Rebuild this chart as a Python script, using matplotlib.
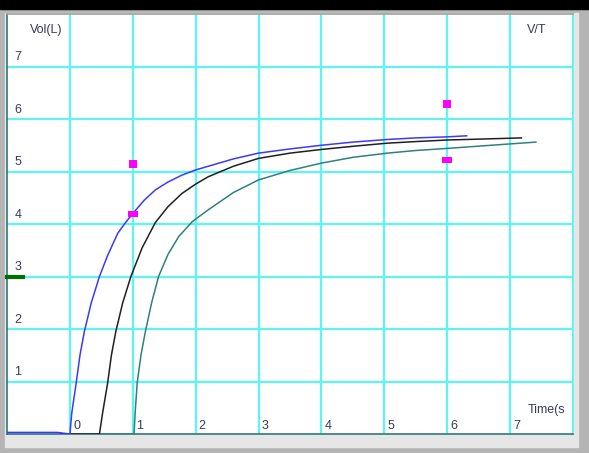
import matplotlib
matplotlib.use("Agg")
import matplotlib.pyplot as plt
from matplotlib.patches import Rectangle

# temps (s) / volume (L) des trois courbes V/T
blue_t = [-1.0, -0.2, 0.0, 0.03, 0.1, 0.16, 0.23, 0.34, 0.47, 0.6, 0.76, 0.88, 1.0,
          1.18, 1.36, 1.56, 1.78, 2.0, 2.2, 2.6, 3.0, 3.5, 4.0, 4.5, 5.05, 5.5, 6.0, 6.31]
blue_v = [0.03, 0.03, 0.0, 0.4, 0.97, 1.5, 1.95, 2.5, 3.0, 3.4, 3.82, 4.02, 4.2,
          4.45, 4.65, 4.8, 4.93, 5.03, 5.1, 5.24, 5.35, 5.43, 5.5, 5.56, 5.61, 5.64, 5.66, 5.68]

black_t = [-0.15, 0.47, 0.52, 0.6, 0.66, 0.73, 0.84, 0.97, 1.15, 1.36, 1.56, 1.78, 2.0,
           2.2, 2.6, 3.0, 3.5, 4.0, 4.5, 5.05, 5.5, 6.0, 6.6, 7.18]
black_v = [0.0, 0.0, 0.4, 0.97, 1.5, 1.95, 2.5, 3.0, 3.55, 4.03, 4.33, 4.58, 4.76,
           4.9, 5.1, 5.25, 5.35, 5.42, 5.48, 5.54, 5.57, 5.6, 5.62, 5.64]

teal_t = [0.47, 1.02, 1.04, 1.07, 1.13, 1.2, 1.3, 1.41, 1.56, 1.73, 1.95, 2.2, 2.6,
          3.0, 3.5, 4.0, 4.5, 5.05, 5.5, 6.0, 6.7, 7.41]
teal_v = [0.0, 0.0, 0.45, 0.97, 1.5, 1.95, 2.5, 3.0, 3.42, 3.76, 4.05, 4.27, 4.6,
          4.84, 5.02, 5.16, 5.27, 5.35, 5.4, 5.44, 5.5, 5.56]

# repères magenta
mark_big_t = [1.0, 6.0]
mark_big_v = [5.14, 6.29]
mark_small_t = [1.0, 6.0]
mark_small_v = [4.19, 5.22]

x_ticks = [0, 1, 2, 3, 4, 5, 6, 7]
y_ticks = [1, 2, 3, 4, 5, 6, 7]

W, H = 589, 453
fig = plt.figure(figsize=(W / 100, H / 100), dpi=100)
fig.patch.set_facecolor("#b4b4b4")

# bandeau noir en haut et bandes claires autour du tracé
fig.patches.append(Rectangle((0, 1 - 9 / H), 1, 9 / H, transform=fig.transFigure,
                             color="black", zorder=-2))
fig.patches.append(Rectangle((5 / W, 6 / H), 573 / W, 434 / H, transform=fig.transFigure,
                             color="#e6e6e6", zorder=-2))

ax = fig.add_axes([7 / W, 19 / H, 566 / W, 420 / H])
ax.set_facecolor("white")
ax.set_xlim(-1, 8)
ax.set_ylim(0, 8)

grid_c = "#5ef4f4"
for x in range(0, 9):
    ax.axvline(x, color=grid_c, lw=1.6, zorder=1)
for y in range(1, 8):
    ax.axhline(y, color=grid_c, lw=1.6, zorder=1)

for s in ax.spines.values():
    s.set_color("#2f7a7a")
    s.set_linewidth(1.2)
ax.spines["top"].set_color("#a0a0a0")
ax.spines["right"].set_color(grid_c)
ax.set_xticks([])
ax.set_yticks([])

ax.plot(teal_t, teal_v, color="#2f8080", lw=1.1, zorder=3)
ax.plot(black_t, black_v, color="#202020", lw=1.1, zorder=3)
ax.plot(blue_t, blue_v, color="#3a3aff", lw=1.1, zorder=4)

ax.plot(mark_big_t, mark_big_v, "s", color="#ff00ff", ms=6, mew=0, zorder=5)
flat = [(-1, -0.6), (1, -0.6), (1, 0.6), (-1, 0.6), (-1, -0.6)]
ax.plot(mark_small_t, mark_small_v, marker=flat, ls="none", color="#ff00ff",
        ms=7, mew=0, zorder=5)

# petit trait vert sur l'axe des volumes
ax.plot([-1, -0.75], [3, 3], color="#007000", lw=3, zorder=5, clip_on=False)

txt_c = "#3a3a5a"
font = dict(color=txt_c, fontsize=9, family="Liberation Sans", zorder=6)
for y in y_ticks:
    ax.text(-0.88, y + 0.06, str(y), ha="left", va="bottom", **font)
for x in x_ticks:
    ax.text(x + 0.05, 0.03, str(x), ha="left", va="bottom", **font)

ax.text(-0.64, 7.7, "Vol(L)", ha="left", va="center", **font)
ax.text(7.27, 7.7, "V/T", ha="left", va="center", **font)
ax.text(7.28, 0.45, "Time(s", ha="left", va="center", clip_on=True, **font)

fig.savefig("out.png", dpi=100, facecolor=fig.get_facecolor())
